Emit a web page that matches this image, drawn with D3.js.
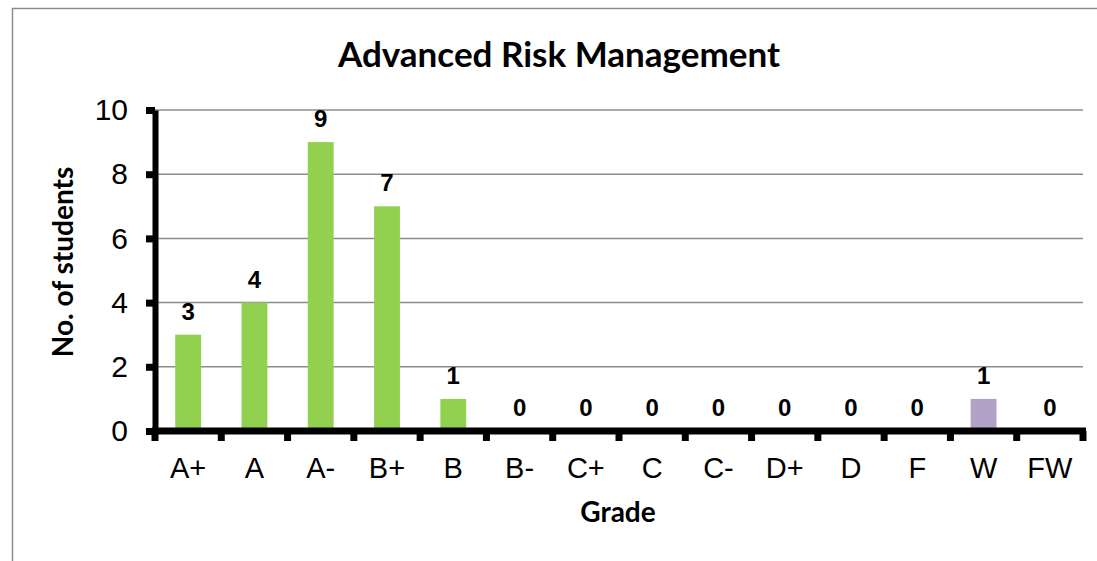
<!DOCTYPE html>
<html>
<head>
<meta charset="utf-8">
<script src="https://cdn.jsdelivr.net/npm/d3@7"></script>
<style>
  body { margin: 0; background: #fff; }
  svg { display: block; }
</style>
</head>
<body>
<script>
var grades = ["A+", "A", "A-", "B+", "B", "B-", "C+", "C", "C-", "D+", "D", "F", "W", "FW"];
var students = [3, 4, 9, 7, 1, 0, 0, 0, 0, 0, 0, 0, 1, 0];
var yTicks = [0, 2, 4, 6, 8, 10];

var margin = {top: 110, right: 14, bottom: 130, left: 155};
var width = 1097 - margin.left - margin.right;
var height = 561 - margin.top - margin.bottom;

var svg = d3.select("body")
  .append("svg")
    .attr("width", 1097)
    .attr("height", 561);

// chart border
svg.append("rect")
  .attr("x", 12.5).attr("y", 8.5)
  .attr("width", 1200).attr("height", 700)
  .attr("fill", "none")
  .attr("stroke", "#8c8c8c")
  .attr("stroke-width", 1.5);

svg.append("text")
  .attr("x", 559).attr("y", 67)
  .attr("text-anchor", "middle")
  .style("font-family", "Lato, 'Open Sans', sans-serif")
  .style("font-weight", "bold")
  .style("font-size", "35px")
  .text("Advanced Risk Management");

var g = svg.append("g")
  .attr("transform", "translate(" + margin.left + "," + margin.top + ")");

var x = d3.scaleBand().domain(grades).range([0, width]).paddingInner(0.61).paddingOuter(0.305);
var xTicks = d3.scaleBand().domain(grades).range([0, width]);
var y = d3.scaleLinear().domain([0, 10]).range([height, 0]);

// gridlines
g.selectAll("line.grid")
  .data(yTicks.slice(1))
  .enter().append("line")
    .attr("class", "grid")
    .attr("x1", 0).attr("x2", width)
    .attr("y1", function(d) { return y(d); })
    .attr("y2", function(d) { return y(d); })
    .attr("stroke", "#8c8c8c")
    .attr("stroke-width", 1.5);

// bars
g.selectAll("rect.bar")
  .data(students)
  .enter().append("rect")
    .attr("class", "bar")
    .attr("x", function(d, i) { return x(grades[i]); })
    .attr("y", function(d) { return y(d); })
    .attr("width", x.bandwidth())
    .attr("height", function(d) { return height - y(d); })
    .attr("fill", function(d, i) { return grades[i] == "W" ? "#b3a2c7" : "#92d050"; });

// value labels
g.selectAll("text.val")
  .data(students)
  .enter().append("text")
    .attr("class", "val")
    .attr("x", function(d, i) { return x(grades[i]) + x.bandwidth() / 2; })
    .attr("y", function(d) { return y(d) - 15; })
    .attr("text-anchor", "middle")
    .style("font-family", "'Liberation Sans', Arial, sans-serif")
    .style("font-weight", "bold")
    .style("font-size", "24px")
    .text(function(d) { return d; });

// y axis
var yAxis = g.append("g")
  .call(d3.axisLeft(y).tickValues(yTicks).tickSize(9).tickSizeOuter(0).tickPadding(18));
yAxis.select(".domain").attr("stroke", "#000").attr("stroke-width", 6);
yAxis.selectAll(".tick line").attr("stroke", "#000").attr("stroke-width", 7);
yAxis.selectAll(".tick text")
  .style("font-family", "'Liberation Sans', Arial, sans-serif")
  .style("font-size", "30px")
  .attr("fill", "#000");

// x axis
var xAxis = g.append("g")
  .attr("transform", "translate(0," + height + ")")
  .call(d3.axisBottom(xTicks).tickSize(0).tickPadding(26));
xAxis.select(".domain").remove();
xAxis.selectAll(".tick text")
  .style("font-family", "'Liberation Sans', Arial, sans-serif")
  .style("font-size", "29px")
  .attr("fill", "#000");

g.append("line")
  .attr("x1", -3).attr("x2", width + 3)
  .attr("y1", height).attr("y2", height)
  .attr("stroke", "#000").attr("stroke-width", 7);

g.selectAll("line.xtick")
  .data(grades.concat(["end"]))
  .enter().append("line")
    .attr("class", "xtick")
    .attr("x1", function(d, i) { return i * xTicks.step(); })
    .attr("x2", function(d, i) { return i * xTicks.step(); })
    .attr("y1", height).attr("y2", height + 10)
    .attr("stroke", "#000").attr("stroke-width", 7);

// axis titles
svg.append("text")
  .attr("x", 618).attr("y", 522)
  .attr("text-anchor", "middle")
  .style("font-family", "Lato, 'Open Sans', sans-serif")
  .style("font-weight", "bold")
  .style("font-size", "28px")
  .text("Grade");

svg.append("text")
  .attr("transform", "translate(73,262) rotate(-90)")
  .attr("text-anchor", "middle")
  .style("font-family", "Lato, 'Open Sans', sans-serif")
  .style("font-weight", "bold")
  .style("font-size", "28px")
  .text("No. of students");
</script>
</body>
</html>
